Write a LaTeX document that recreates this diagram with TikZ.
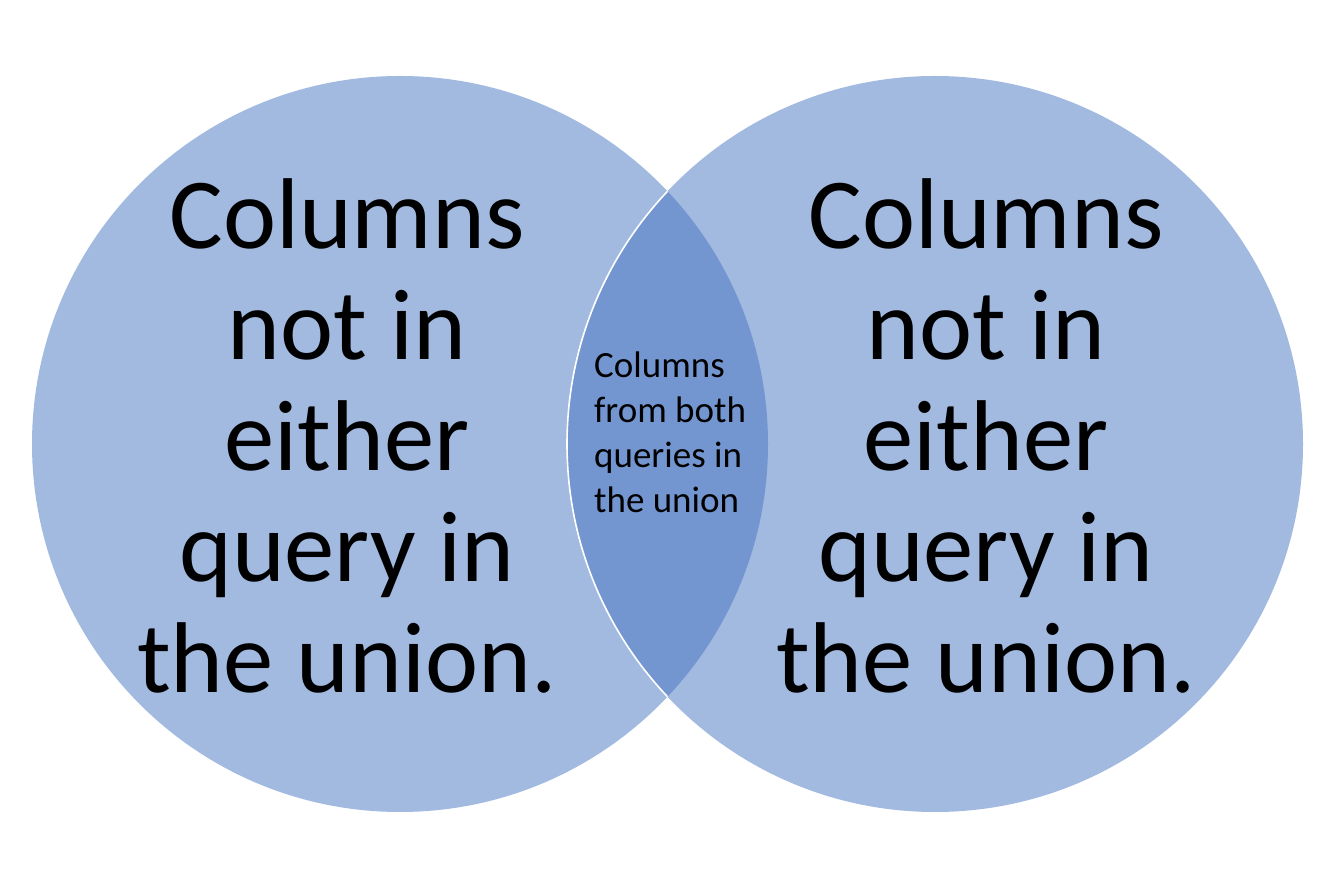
\documentclass[tikz,border=0pt]{standalone}
\usepackage{fontspec}
\setmainfont{Carlito}
\definecolor{setfill}{HTML}{A2B9E0}
\definecolor{lensfill}{HTML}{7496D0}
\begin{document}
\begin{tikzpicture}[x=1pt,y=1pt,
  setcircle/.style={circle,inner sep=0pt,minimum size=736pt,fill=setfill},
  bigtext/.style={inner sep=0pt,align=center,anchor=base,
    font={\fontsize{100.6}{111}\selectfont}},
  smalltext/.style={inner sep=0pt,align=left,anchor=base west,
    font={\fontsize{37}{45}\selectfont}}]
\useasboundingbox (0,0) rectangle (1334,889);
% the two sets
\node[setcircle] (L) at (400,445) {};
\node[setcircle] (R) at (935,445) {};
% their overlap, and the white rim of the right set inside the left one
\begin{scope}
  \clip (L.center) circle[radius=368];
  \fill[lensfill] (R.center) circle[radius=368];
  \draw[white,line width=1.6pt] (R.center) circle[radius=368];
\end{scope}
% labels (anchored on the baseline of their last line)
\node[bigtext] (Ltext) at (347,196) {Columns\\not in\\either\\query in\\the union.};
\node[bigtext] (Rtext) at (986,196) {Columns\\not in\\either\\query in\\the union.};
\node[smalltext] (Mtext) at (594,376) {Columns\\from both\\queries in\\the union};
\end{tikzpicture}
\end{document}
